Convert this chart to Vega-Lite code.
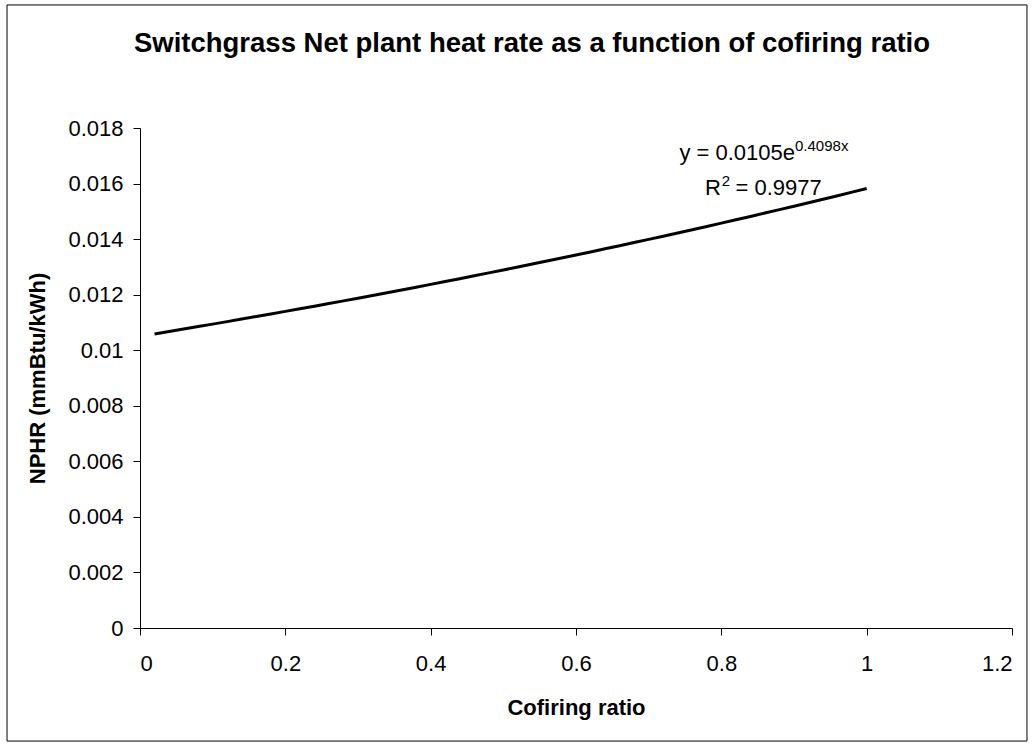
{
  "$schema": "https://vega.github.io/schema/vega-lite/v6.json",
  "width": 872,
  "height": 500,
  "autosize": {"type": "none"},
  "padding": {"left": 140, "top": 128, "right": 22, "bottom": 118},
  "background": "white",
  "config": {
    "view": {"stroke": null},
    "font": "Liberation Sans",
    "axis": {
      "grid": false,
      "domainColor": "black",
      "tickColor": "black",
      "tickSize": 7,
      "labelFont": "Liberation Sans",
      "labelFontSize": 22,
      "labelColor": "black",
      "titleFont": "Liberation Sans",
      "titleFontSize": 22,
      "titleFontWeight": "bold",
      "titleColor": "black"
    }
  },
  "title": {
    "text": "Switchgrass Net plant heat rate as a function of cofiring ratio",
    "font": "Liberation Sans",
    "fontSize": 27.5,
    "fontWeight": "bold",
    "color": "black",
    "anchor": "middle",
    "baseline": "middle",
    "dx": -44,
    "offset": -67
  },
  "data": {
    "values": [
      {"ratio": 0.02, "nphr": 0.010587},
      {"ratio": 0.04, "nphr": 0.010674},
      {"ratio": 0.06, "nphr": 0.010762},
      {"ratio": 0.08, "nphr": 0.010851},
      {"ratio": 0.10, "nphr": 0.010940},
      {"ratio": 0.12, "nphr": 0.011030},
      {"ratio": 0.14, "nphr": 0.011121},
      {"ratio": 0.16, "nphr": 0.011212},
      {"ratio": 0.18, "nphr": 0.011305},
      {"ratio": 0.20, "nphr": 0.011398},
      {"ratio": 0.22, "nphr": 0.011491},
      {"ratio": 0.24, "nphr": 0.011586},
      {"ratio": 0.26, "nphr": 0.011681},
      {"ratio": 0.28, "nphr": 0.011777},
      {"ratio": 0.30, "nphr": 0.011874},
      {"ratio": 0.32, "nphr": 0.011972},
      {"ratio": 0.34, "nphr": 0.012071},
      {"ratio": 0.36, "nphr": 0.012170},
      {"ratio": 0.38, "nphr": 0.012270},
      {"ratio": 0.40, "nphr": 0.012371},
      {"ratio": 0.42, "nphr": 0.012473},
      {"ratio": 0.44, "nphr": 0.012576},
      {"ratio": 0.46, "nphr": 0.012679},
      {"ratio": 0.48, "nphr": 0.012784},
      {"ratio": 0.50, "nphr": 0.012889},
      {"ratio": 0.52, "nphr": 0.012995},
      {"ratio": 0.54, "nphr": 0.013102},
      {"ratio": 0.56, "nphr": 0.013210},
      {"ratio": 0.58, "nphr": 0.013318},
      {"ratio": 0.60, "nphr": 0.013428},
      {"ratio": 0.62, "nphr": 0.013538},
      {"ratio": 0.64, "nphr": 0.013650},
      {"ratio": 0.66, "nphr": 0.013762},
      {"ratio": 0.68, "nphr": 0.013875},
      {"ratio": 0.70, "nphr": 0.013990},
      {"ratio": 0.72, "nphr": 0.014105},
      {"ratio": 0.74, "nphr": 0.014221},
      {"ratio": 0.76, "nphr": 0.014338},
      {"ratio": 0.78, "nphr": 0.014456},
      {"ratio": 0.80, "nphr": 0.014575},
      {"ratio": 0.82, "nphr": 0.014695},
      {"ratio": 0.84, "nphr": 0.014816},
      {"ratio": 0.86, "nphr": 0.014938},
      {"ratio": 0.88, "nphr": 0.015061},
      {"ratio": 0.90, "nphr": 0.015185},
      {"ratio": 0.92, "nphr": 0.015310},
      {"ratio": 0.94, "nphr": 0.015436},
      {"ratio": 0.96, "nphr": 0.015563},
      {"ratio": 0.98, "nphr": 0.015691},
      {"ratio": 1.00, "nphr": 0.015820}
    ]
  },
  "layer": [
    {
      "mark": {"type": "line", "color": "black", "strokeWidth": 3},
      "encoding": {
        "x": {
          "field": "ratio",
          "type": "quantitative",
          "title": "Cofiring ratio",
          "scale": {"domain": [0, 1.2], "nice": false, "zero": false},
          "axis": {
            "values": [0, 0.2, 0.4, 0.6, 0.8, 1, 1.2],
            "format": "~g",
            "labelPadding": 18,
            "titlePadding": 23
          }
        },
        "y": {
          "field": "nphr",
          "type": "quantitative",
          "title": "NPHR (mmBtu/kWh)",
          "scale": {"domain": [0, 0.018], "nice": false, "zero": false},
          "axis": {
            "values": [0, 0.002, 0.004, 0.006, 0.008, 0.01, 0.012, 0.014, 0.016, 0.018],
            "format": "~g",
            "labelPadding": 10,
            "titlePadding": 18
          }
        }
      }
    },
    {
      "data": {"values": [{"frame": "chart"}]},
      "mark": {"type": "rect", "fill": null, "stroke": "black", "strokeWidth": 1, "clip": false},
      "encoding": {
        "x": {"datum": -0.183, "type": "quantitative"},
        "x2": {"datum": 1.2206},
        "y": {"datum": 0.02243, "type": "quantitative"},
        "y2": {"datum": -0.00407}
      }
    },
    {
      "data": {"values": [{"label": "y = 0.0105e"}]},
      "mark": {"type": "text", "align": "right", "baseline": "alphabetic", "fontSize": 22, "color": "black", "font": "Liberation Sans"},
      "encoding": {
        "x": {"datum": 0.9014, "type": "quantitative"},
        "y": {"datum": 0.016848, "type": "quantitative"},
        "text": {"field": "label"}
      }
    },
    {
      "data": {"values": [{"label": "0.4098x"}]},
      "mark": {"type": "text", "align": "left", "baseline": "alphabetic", "fontSize": 15, "color": "black", "font": "Liberation Sans"},
      "encoding": {
        "x": {"datum": 0.9014, "type": "quantitative"},
        "y": {"datum": 0.017172, "type": "quantitative"},
        "text": {"field": "label"}
      }
    },
    {
      "data": {"values": [{"label": "R"}]},
      "mark": {"type": "text", "align": "right", "baseline": "alphabetic", "fontSize": 22, "color": "black", "font": "Liberation Sans"},
      "encoding": {
        "x": {"datum": 0.7995, "type": "quantitative"},
        "y": {"datum": 0.015588, "type": "quantitative"},
        "text": {"field": "label"}
      }
    },
    {
      "data": {"values": [{"label": "2"}]},
      "mark": {"type": "text", "align": "left", "baseline": "alphabetic", "fontSize": 15, "color": "black", "font": "Liberation Sans"},
      "encoding": {
        "x": {"datum": 0.8005, "type": "quantitative"},
        "y": {"datum": 0.015912, "type": "quantitative"},
        "text": {"field": "label"}
      }
    },
    {
      "data": {"values": [{"label": "= 0.9977"}]},
      "mark": {"type": "text", "align": "left", "baseline": "alphabetic", "fontSize": 22, "color": "black", "font": "Liberation Sans"},
      "encoding": {
        "x": {"datum": 0.8195, "type": "quantitative"},
        "y": {"datum": 0.015588, "type": "quantitative"},
        "text": {"field": "label"}
      }
    }
  ]
}
